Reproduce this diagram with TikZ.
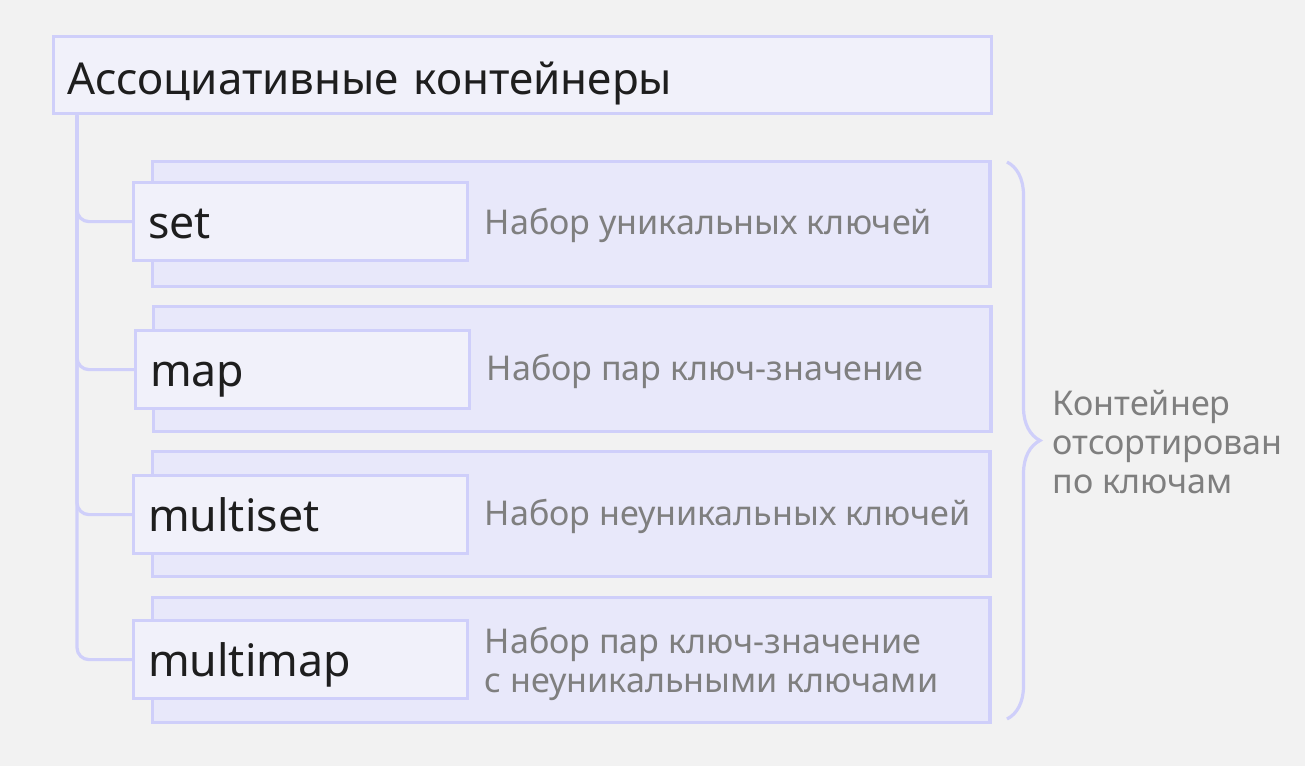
\documentclass[tikz,border=0pt]{standalone}
\usepackage{fontspec}
\setmainfont{Noto Sans}
\usetikzlibrary{decorations.pathreplacing}
\definecolor{pagebg}{HTML}{F2F2F2}
\definecolor{edgeclr}{HTML}{CFCFFA}
\definecolor{headfill}{HTML}{F1F1FA}
\definecolor{rowfill}{HTML}{E8E8FA}
\definecolor{inkdark}{HTML}{1E1E1E}
\definecolor{inkgray}{HTML}{7F7F7F}
\begin{document}
\begin{tikzpicture}[x=0.01cm, y=-0.01cm,
    frame/.style={draw=edgeclr, line width=0.032cm, anchor=north west, inner ysep=0pt},
    rowbox/.style={frame, fill=rowfill, minimum width=8.37cm, minimum height=1.25cm},
    keybox/.style={frame, fill=headfill, minimum width=3.34cm, minimum height=0.78cm,
      inner xsep=0.145cm, text width=3.05cm, align=left, text height=11pt, text depth=1.5pt,
      text=inkdark, font=\fontsize{12.7}{15}\selectfont},
    note/.style={anchor=west, inner sep=0pt, align=left, text=inkgray,
      font=\fontsize{9.7}{11.2}\selectfont},
    link/.style={draw=edgeclr, line width=0.032cm, rounded corners=0.12cm}]
  \fill[pagebg] (0,0) rectangle (1305,766);
  % title
  \node[frame, fill=headfill, minimum width=9.37cm, minimum height=0.77cm,
    inner xsep=0.14cm, text width=9.09cm, align=left, text height=12pt, text depth=0.9pt,
    text=inkdark, font=\fontsize{12.5}{15}\selectfont] (title) at (52,35) {Ассоциативные контейнеры};
  % rows
  \node[rowbox] (row0) at (151,160) {};
  \node[keybox] (key0) at (132,181) {set};
  \node[note] (txt0) at (484,225) {Набор уникальных ключей};
  \node[rowbox] (row1) at (152,305) {};
  \node[keybox] (key1) at (134,329) {map};
  \node[note] (txt1) at (486,371) {Набор пар ключ-значение};
  \node[rowbox] (row2) at (151,450) {};
  \node[keybox] (key2) at (132,474) {multiset};
  \node[note] (txt2) at (484,516) {Набор неуникальных ключей};
  \node[rowbox] (row3) at (151,596) {};
  \node[keybox] (key3) at (132,619) {multimap};
  \node[note] (txt3) at (484,664) {Набор пар ключ-значение\\с неуникальными ключами};
  % tree lines
  \draw[link] (title.south west) ++(25,0) |- (key0.west);
  \draw[link] (title.south west) ++(25,0) |- (key1.west);
  \draw[link] (title.south west) ++(25,0) |- (key2.west);
  \draw[link] (title.south west) ++(25,0) |- (key3.west);
  % brace
  \coordinate (btop) at (1007,162);
  \coordinate (bbot) at (1007,719);
  \draw[edgeclr, line width=0.032cm, decorate, decoration={brace, amplitude=0.33cm}] (btop) -- (bbot);
  \node[note] (sorted) at (1052,442) {Контейнер\\отсортирован\\по ключам};
\end{tikzpicture}
\end{document}
